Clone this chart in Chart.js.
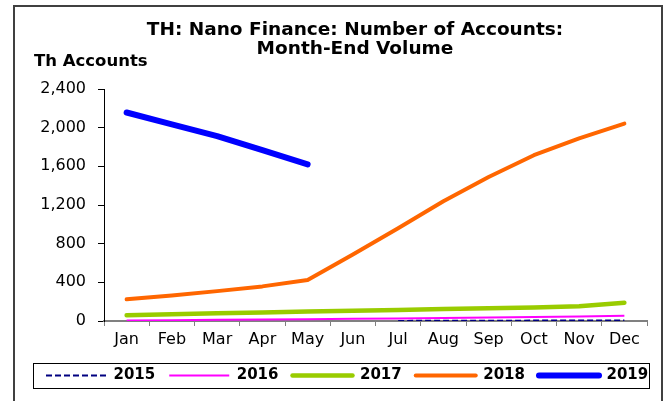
<!DOCTYPE html>
<html>
<head>
<meta charset="utf-8">
<script src="https://cdn.jsdelivr.net/npm/chart.js@4/dist/chart.umd.min.js"></script>
<style>
  body { margin: 0; overflow: hidden; background: #fff; }
  #wrap { position: absolute; left: 0; top: 0; width: 669px; height: 401px; }
</style>
</head>
<body>
<div id="wrap"><canvas id="graph"></canvas></div>
<script>
// data
const months = ['Jan', 'Feb', 'Mar', 'Apr', 'May', 'Jun', 'Jul', 'Aug', 'Sep', 'Oct', 'Nov', 'Dec'];
const years = ['2015', '2016', '2017', '2018', '2019'];
const v2015 = [null, null, null, null, null, null, 1, 2, 3, 4, 5, 6];
const v2016 = [6, 9, 12, 15, 19, 23, 27, 31, 36, 41, 47, 55];
const v2017 = [60, 70, 79, 88, 97, 106, 114, 123, 131, 140, 152, 190];
const v2018 = [225, 264, 309, 358, 424, 689, 960, 1238, 1489, 1715, 1889, 2042];
const v2019 = [2157, 2035, 1913, 1767, 1621, null, null, null, null, null, null, null];
const yTicks = [0, 400, 800, 1200, 1600, 2000, 2400];

const titleLines = ['TH: Nano Finance: Number of Accounts:', 'Month-End Volume'];
const unitLabel = 'Th Accounts';

const FONT = '"DejaVu Sans", Arial, sans-serif';

// frame, titles and the box round the legend
const decor = {
  id: 'decor',
  beforeDraw(chart) {
    const c = chart.ctx;
    c.save();
    c.fillStyle = '#fff';
    c.fillRect(0, 0, chart.width, chart.height);
    c.strokeStyle = '#404040';
    c.lineWidth = 2;
    c.beginPath();
    c.moveTo(14, 420);
    c.lineTo(14, 6);
    c.lineTo(662, 6);
    c.lineTo(662, 420);
    c.stroke();
    c.restore();
  },
  afterDraw(chart) {
    const c = chart.ctx;
    c.save();
    c.fillStyle = '#000';
    c.font = 'bold 18.5px ' + FONT;
    c.textAlign = 'center';
    c.textBaseline = 'middle';
    c.fillText(titleLines[0], 355, 30);
    c.fillText(titleLines[1], 355, 49);
    c.font = 'bold 16.5px ' + FONT;
    c.textAlign = 'left';
    c.textBaseline = 'alphabetic';
    c.fillText(unitLabel, 34, 66);

    const boxes = chart.legend.legendHitBoxes;
    if (boxes.length) {
      const first = boxes[0], last = boxes[boxes.length - 1];
      const mid = first.top + first.height / 2;
      c.strokeStyle = '#000';
      c.lineWidth = 1;
      c.strokeRect(33.5, Math.round(mid - 12.5) + 0.5, Math.round(last.left + last.width + 1) - 33, 25);
    }
    c.restore();
  }
};

const graph = document.getElementById('graph').getContext('2d');
let myChart = new Chart(graph, {
  type: 'line',
  data: {
    labels: months,
    datasets: [
      { label: years[0], data: v2015, borderColor: '#000080', borderWidth: 2, borderDash: [6, 3] },
      { label: years[1], data: v2016, borderColor: '#FF00FF', borderWidth: 2 },
      { label: years[2], data: v2017, borderColor: '#99CC00', borderWidth: 4.5, borderCapStyle: 'round' },
      { label: years[3], data: v2018, borderColor: '#FF6600', borderWidth: 4, borderCapStyle: 'round' },
      { label: years[4], data: v2019, borderColor: '#0000FF', borderWidth: 6, borderCapStyle: 'round' }
    ]
  },
  options: {
    responsive: true,
    maintainAspectRatio: false,
    devicePixelRatio: 1,
    animation: false,
    elements: {
      point: { radius: 0, hoverRadius: 0 },
      line: { tension: 0, fill: false, borderJoinStyle: 'round' }
    },
    layout: {
      padding: { left: 32, right: 0, top: 89, bottom: 8 }
    },
    plugins: {
      title: { display: false },
      tooltip: { enabled: false },
      legend: {
        position: 'bottom',
        align: 'start',
        labels: {
          usePointStyle: true,
          pointStyle: 'line',
          pointStyleWidth: 60,
          padding: 14,
          color: '#000',
          font: { family: FONT, size: 15, weight: 'bold' },
          // take the line look straight from each dataset
          generateLabels(chart) {
            const items = Chart.defaults.plugins.legend.labels.generateLabels(chart);
            items.forEach(item => {
              const ds = chart.data.datasets[item.datasetIndex];
              item.strokeStyle = ds.borderColor;
              item.lineWidth = ds.borderWidth;
              item.lineDash = ds.borderDash || [];
              item.lineCap = ds.borderCapStyle || 'butt';
              item.pointStyle = 'line';
            });
            return items;
          }
        }
      }
    },
    scales: {
      x: {
        offset: true,
        grid: { offset: true, drawOnChartArea: false, drawTicks: true, tickLength: 5, color: '#808080' },
        border: { display: true, color: '#808080', width: 2 },
        ticks: { color: '#000', padding: 4, maxRotation: 0, autoSkip: false, font: { family: FONT, size: 16 } },
        afterFit: s => { s.height = 33; }
      },
      y: {
        min: 0,
        max: 2400,
        afterBuildTicks: s => { s.ticks = yTicks.map(v => ({ value: v })); },
        grid: { drawOnChartArea: false, drawTicks: true, tickLength: 6, color: '#000' },
        border: { display: true, color: '#000', width: 1 },
        ticks: { color: '#000', padding: 12, font: { family: FONT, size: 16 } },
        afterFit: s => { s.width = 72; }
      },
      y2: {
        position: 'right',
        grid: { display: false },
        border: { display: false },
        ticks: { display: false },
        afterFit: s => { s.width = 22; }
      }
    }
  },
  plugins: [decor]
});
</script>
</body>
</html>
